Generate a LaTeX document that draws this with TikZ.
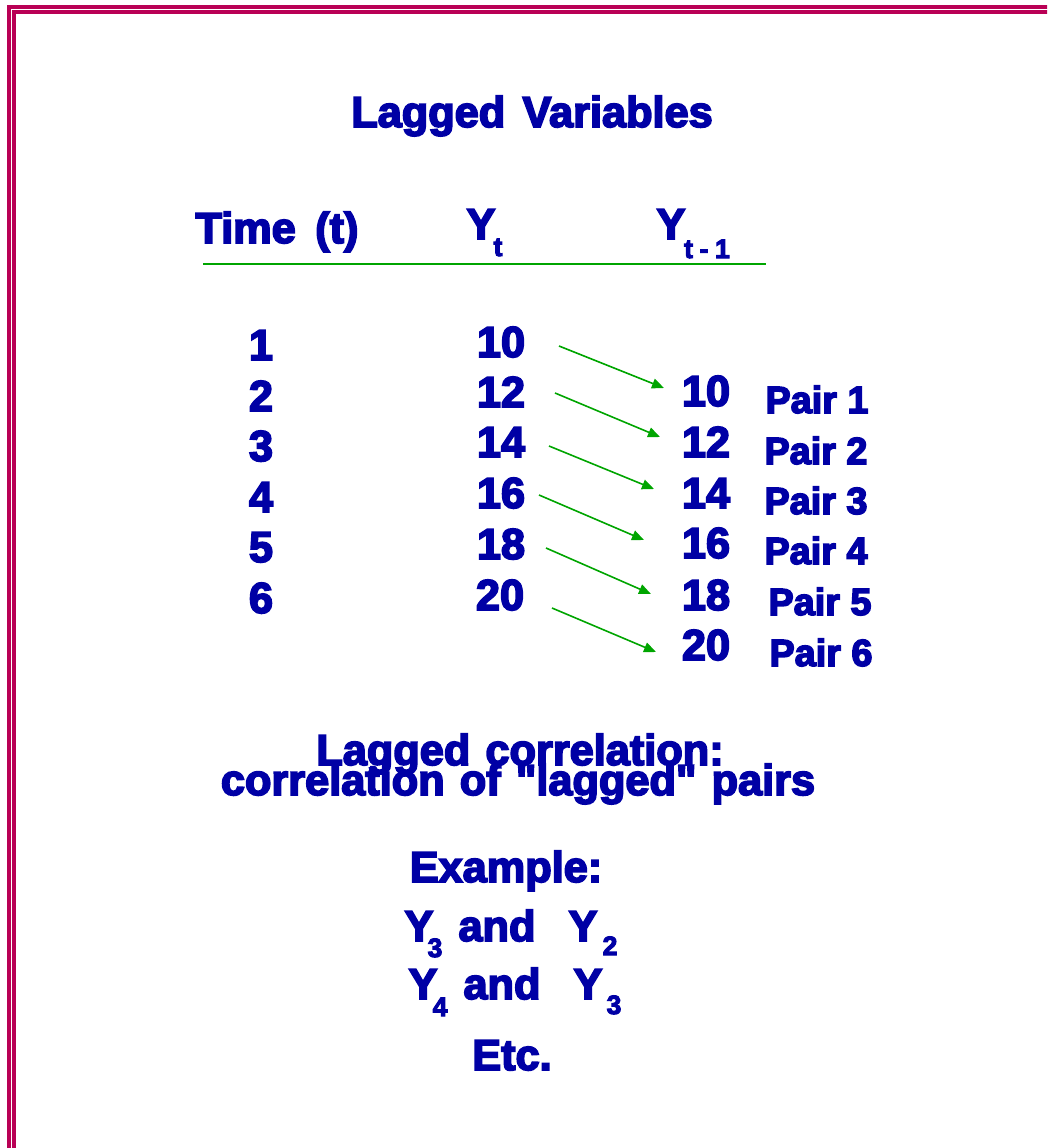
\documentclass[tikz,border=0pt]{standalone}
\usepackage{fontspec}
\newfontfamily\hv{Liberation Sans Bold}[FakeBold=4]
\usetikzlibrary{arrows.meta}
\definecolor{framec}{RGB}{185,0,85}
\definecolor{txt}{RGB}{0,0,165}
\definecolor{grn}{RGB}{0,165,0}
\begin{document}
\begin{tikzpicture}[x=1pt,y=-1pt,
  lbl/.style={text=txt,font=\hv\fontsize{43.3}{43.3}\selectfont,inner sep=0pt,anchor=base},
  pairlbl/.style={text=txt,font=\hv\fontsize{37.8}{37.8}\selectfont,inner sep=0pt,anchor=base},
  sub/.style={text=txt,font=\hv\fontsize{26.5}{26.5}\selectfont,inner sep=0pt,anchor=base},
  lag/.style={draw=grn,line width=1.6pt,-{Triangle[length=12pt,width=10pt]}}]
\useasboundingbox (0,0) rectangle (1047,1148);
\begin{scope}
\clip (0,0) rectangle (1047,1148);
\draw[framec,line width=4pt] (9,7) rectangle (1100,1200);
\draw[framec,line width=4pt] (14,12) rectangle (1100,1200);
\end{scope}
% title
\node[lbl] (title) at (532,127) {Lagged\hspace{0.4em}Variables};
% header
\node[lbl] (time) at (277,243) {Time\hspace{0.45em}(t)};
\node[lbl] (yt) at (481,239) {Y};
\node[sub] (ytsub) at (498,256) {t};
\node[lbl] (ytl) at (671,239) {Y};
\node[sub] (ytlsub) at (707,258) {t\hspace{0.25em}-\hspace{0.25em}1};
\coordinate (hl) at (203,264);
\coordinate (hr) at (766,264);
\draw[grn,line width=1.5pt] (hl) -- (hr);
% rows
\foreach \i/\ya in {1/360,2/411,3/461,4/512,5/562,6/613}{
  \node[lbl] (t\i) at (261,\ya) {\i};
}
\node[lbl] (a1) at (501,357) {10};
\node[lbl] (a2) at (501,407) {12};
\node[lbl] (a3) at (501,457) {14};
\node[lbl] (a4) at (501,508) {16};
\node[lbl] (a5) at (501,559) {18};
\node[lbl] (a6) at (500,610) {20};
\node[lbl] (b1) at (706,406) {10};
\node[lbl] (b2) at (706,457) {12};
\node[lbl] (b3) at (706,508) {14};
\node[lbl] (b4) at (706,558) {16};
\node[lbl] (b5) at (706,610) {18};
\node[lbl] (b6) at (706,660) {20};
\node[pairlbl] (p1) at (817,413) {Pair 1};
\node[pairlbl] (p2) at (816,464) {Pair 2};
\node[pairlbl] (p3) at (816,514) {Pair 3};
\node[pairlbl] (p4) at (816,564) {Pair 4};
\node[pairlbl] (p5) at (820,615) {Pair 5};
\node[pairlbl] (p6) at (821,666) {Pair 6};
% arrows
\coordinate (s1) at (559,346); \coordinate (e1) at (664,388);
\coordinate (s2) at (555,393); \coordinate (e2) at (660,437);
\coordinate (s3) at (549,446); \coordinate (e3) at (654,489);
\coordinate (s4) at (539,495); \coordinate (e4) at (644,540);
\coordinate (s5) at (546,548); \coordinate (e5) at (651,594);
\coordinate (s6) at (552,608); \coordinate (e6) at (656,652);
\foreach \k in {1,...,6}{\draw[lag] (s\k) -- (e\k);}
% lower text
\node[lbl] (lc) at (520,765) {Lagged\hspace{0.35em}correlation:};
\node[lbl] (lc2) at (518,795) {correlation\hspace{0.35em}of\hspace{0.35em}"lagged"\hspace{0.35em}pairs};
\node[lbl] (ex) at (506,882) {Example:};
\node[lbl] (y3) at (419,941) {Y};
\node[sub] (y3s) at (435,957) {3};
\node[lbl] (and1) at (497,941) {and};
\node[lbl] (y2) at (583,941) {Y};
\node[sub] (y2s) at (610,955) {2};
\node[lbl] (y4) at (423,999) {Y};
\node[sub] (y4s) at (440,1016) {4};
\node[lbl] (and2) at (502,999) {and};
\node[lbl] (y3b) at (588,999) {Y};
\node[sub] (y3bs) at (614,1014) {3};
\node[lbl] (etc) at (512,1070) {Etc.};
\end{tikzpicture}
\end{document}
